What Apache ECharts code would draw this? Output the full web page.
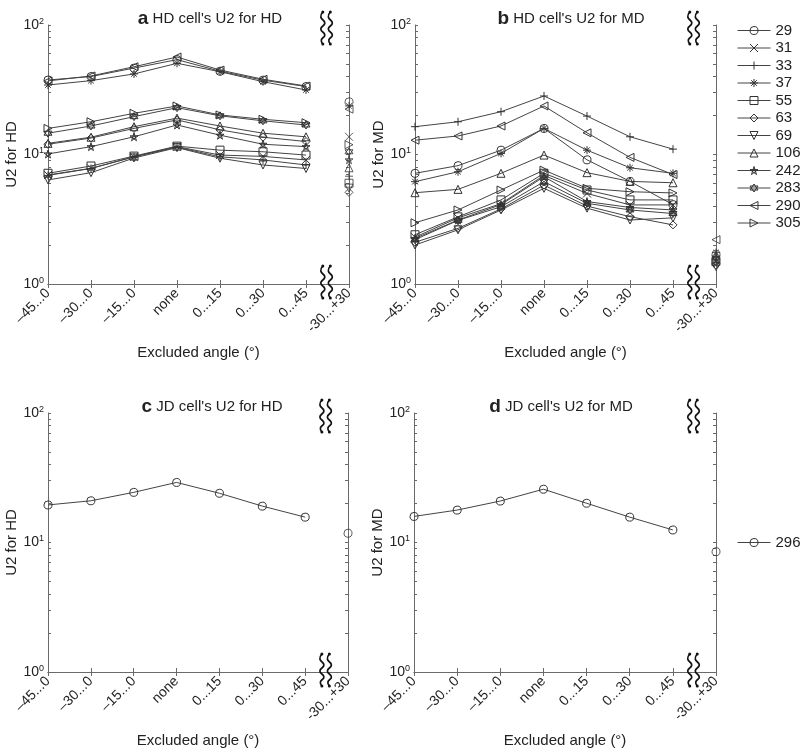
<!DOCTYPE html>
<html><head><meta charset="utf-8">
<script src="https://cdn.jsdelivr.net/npm/echarts@6/dist/echarts.min.js"></script>
<style>html,body{margin:0;padding:0;background:#fff}#c{width:800px;height:751px}</style>
</head><body><div id="c"></div>
<script>
// ---------------- data ----------------
const categories = ['–45...0','–30...0','–15...0','none','0...15','0...30','0...45','-30...+30'];
const cellIds = ['29','31','33','37','55','63','69','106','242','283','290','305'];
// panel a: HD cell's U2 for HD (first seven categories), rows follow cellIds
const hdForHD = [
  [37.6, 40.0, 46.5, 54.0, 44.0, 37.5, 33.5],
  [6.95, 7.82, 9.6, 11.5, 9.9, 9.67, 9.08],
  [6.9, 7.8, 9.6, 11.4, 9.6, 9.08, 8.3],
  [34.4, 37.2, 41.9, 50.6, 43.6, 36.5, 31.5],
  [7.16, 8.15, 9.72, 11.6, 10.8, 10.5, 9.9],
  [12.0, 13.4, 15.9, 18.5, 15.5, 13.6, 12.6],
  [6.36, 7.24, 9.4, 11.3, 9.36, 8.3, 7.8],
  [12.2, 13.6, 16.4, 19.1, 16.6, 14.6, 13.7],
  [10.1, 11.5, 13.7, 16.9, 14.1, 12.0, 11.5],
  [14.6, 16.6, 19.6, 23.0, 19.9, 18.2, 16.9],
  [37.0, 40.4, 47.6, 56.6, 44.9, 38.1, 33.8],
  [15.9, 17.9, 20.8, 23.7, 20.2, 18.7, 17.6]
];
// panel a: value for the "-30...+30" category
const hdForHDWide = [25.5, 13.7, 6.8, 23.7, 6.0, 5.1, 5.5, 7.9, 9.1, 10.5, 22.4, 11.9];
// panel b: HD cell's U2 for MD
const hdForMD = [
  [7.16, 8.2, 10.8, 15.9, 9.1, 6.2, 4.1],
  [2.3, 3.24, 4.17, 6.9, 5.0, 4.08, 4.08],
  [16.4, 17.9, 21.4, 28.3, 19.8, 13.7, 11.0],
  [6.17, 7.36, 10.2, 15.9, 10.8, 7.9, 7.16],
  [2.4, 3.3, 4.46, 7.16, 5.32, 4.46, 4.46],
  [2.1, 2.69, 3.8, 5.8, 4.0, 3.31, 2.86],
  [2.0, 2.62, 3.73, 5.48, 3.85, 3.12, 3.24],
  [5.07, 5.38, 7.16, 9.9, 7.24, 6.2, 6.05],
  [2.25, 3.12, 4.1, 6.74, 4.33, 3.9, 3.73],
  [2.2, 3.1, 3.95, 6.17, 4.2, 3.73, 3.5],
  [12.9, 13.9, 16.6, 23.7, 14.7, 9.5, 7.0],
  [2.97, 3.73, 5.32, 7.58, 5.48, 5.16, 5.05]
];
const hdForMDWide = [1.70, 1.55, 1.62, 1.75, 1.50, 1.40, 1.36, 1.66, 1.45, 1.58, 2.2, 1.48];
// panels c, d: JD cell
const jdId = '296';
const jdForHD = [19.5, 21.0, 24.4, 29.1, 24.0, 19.1, 15.7];
const jdForHDWide = 11.8;
const jdForMD = [15.9, 17.8, 20.9, 25.8, 20.1, 15.7, 12.5];
const jdForMDWide = 8.5;
const titlesText = ["{b|a} HD cell's U2 for HD", "{b|b} HD cell's U2 for MD", "{b|c} JD cell's U2 for HD", "{b|d} JD cell's U2 for MD"];
const yNames = ['U2 for HD', 'U2 for MD', 'U2 for HD', 'U2 for MD'];

// ---------------- style ----------------
const FONT = 'Liberation Sans, Arial, sans-serif';
const AX = '#6a6a6a';
const LINE = '#444';
const CIRCLE = 'path://M5,0A5,5 0 1,1 4.99,0Z';
const symbols = {
  '29': CIRCLE,
  '31': 'path://M0,0L10,10M10,0L0,10',
  '33': 'path://M5,0L5,10M0,5L10,5',
  '37': 'path://M5,0L5,10M0,5L10,5M1.5,1.5L8.5,8.5M8.5,1.5L1.5,8.5',
  '55': 'path://M0,0L10,0L10,10L0,10Z',
  '63': 'path://M5,0L10,5L5,10L0,5Z',
  '69': 'path://M0,0L10,0L5,9Z',
  '106': 'path://M5,0L10,9L0,9Z',
  '242': 'path://M5,0L7.94,9.05L0.24,3.45L9.76,3.45L2.06,9.05Z',
  '283': 'path://M5,0L9.33,7.5L0.67,7.5ZM5,10L0.67,2.5L9.33,2.5Z',
  '290': 'path://M0,5L9,0L9,10Z',
  '305': 'path://M10,5L1,0L1,10Z',
  '296': CIRCLE
};
const grids = [
  {left: 48, top: 25, width: 301, height: 259},
  {left: 415, top: 25, width: 301, height: 259},
  {left: 48, top: 413, width: 300, height: 259},
  {left: 414, top: 413, width: 302, height: 259}
];
const titleCenters = [[205, 4], [566, 4], [207, 392], [556, 392]];

const minorLog = [];
for (let d = 0; d < 2; d++) for (let m = 1; m < 10; m++) minorLog.push(d + Math.log10(m));
minorLog.push(2);

const xAxes = [], yAxes = [], series = [], graphics = [];
grids.forEach((g, gi) => {
  xAxes.push({
    gridIndex: gi, type: 'category', data: categories, boundaryGap: false, position: 'bottom',
    axisLine: {lineStyle: {color: AX, width: 1}},
    axisTick: {inside: true, length: 4, lineStyle: {color: AX}, alignWithLabel: true},
    axisLabel: {rotate: 45, interval: 0, margin: 7, fontSize: 14, color: '#222', fontFamily: FONT},
    name: 'Excluded angle (°)', nameLocation: 'middle', nameGap: 61,
    nameTextStyle: {fontSize: 15, color: '#222', fontFamily: FONT},
    splitLine: {show: false}
  });
  xAxes.push({
    gridIndex: gi, type: 'category', data: categories, boundaryGap: false, position: 'top',
    axisLine: {lineStyle: {color: AX, width: 1}},
    axisTick: {show: true, inside: true, length: 4, interval: 0, lineStyle: {color: AX}},
    axisLabel: {show: false}, splitLine: {show: false}
  });
  yAxes.push({
    gridIndex: gi, type: 'log', logBase: 10, min: 1, max: 100, position: 'left',
    axisLine: {show: true, lineStyle: {color: AX, width: 1}},
    axisTick: {show: false},
    axisLabel: {
      margin: 4, color: '#222', fontFamily: FONT, fontSize: 14,
      formatter: v => '10{s|' + Math.round(Math.log10(v)) + '}',
      rich: {s: {fontSize: 9, verticalAlign: 'top', lineHeight: 16, fontFamily: FONT, color: '#222'}}
    },
    name: yNames[gi], nameLocation: 'middle', nameGap: 24,
    nameTextStyle: {fontSize: 15, color: '#222', fontFamily: FONT},
    splitLine: {show: false}
  });
  yAxes.push({
    gridIndex: gi, type: 'value', min: 0, max: 2, position: 'left',
    axisLine: {show: false}, axisLabel: {show: false}, splitLine: {show: false},
    axisTick: {show: true, inside: true, length: 3, customValues: minorLog, lineStyle: {color: AX}}
  });
  yAxes.push({
    gridIndex: gi, type: 'value', min: 0, max: 2, position: 'right',
    axisLine: {show: true, lineStyle: {color: AX, width: 1}}, axisLabel: {show: false}, splitLine: {show: false},
    axisTick: {show: true, inside: true, length: 3, customValues: minorLog, lineStyle: {color: AX}}
  });
  // axis-break squiggles (decoration)
  const wave = [[0,0],[-2,5],[2,11],[-2,17],[2,23],[-1.5,28],[0,32]];
  [0.913, 0.938].forEach(f => {
    const x = g.left + g.width * f;
    [g.top - 13, g.top + g.height - 18].forEach(y => {
      graphics.push({type: 'polyline', x: x, y: y, z: 100,
        shape: {points: wave, smooth: 0.5},
        style: {stroke: '#111', fill: null, lineWidth: 1.7}});
      graphics.push({type: 'circle', x: x, y: y, shape: {r: 1.5}, style: {fill: '#111'}, z: 100});
      graphics.push({type: 'circle', x: x, y: y + 32, shape: {r: 1.5}, style: {fill: '#111'}, z: 100});
    });
  });
});

const markerStyle = {color: 'rgba(255,255,255,0)', borderColor: '#333', borderWidth: 1};
function addSeries(name, gi, vals, wide) {
  const common = {
    name: name, xAxisIndex: gi * 2, yAxisIndex: gi * 3,
    symbol: symbols[name], symbolSize: 8,
    itemStyle: markerStyle,
    lineStyle: {color: LINE, width: 1},
    emphasis: {disabled: true}, silent: true
  };
  series.push(Object.assign({type: 'line', data: vals}, common));
  series.push(Object.assign({type: 'scatter', data: [[categories[7], wide]]}, common));
}
cellIds.forEach((id, i) => {
  addSeries(id, 0, hdForHD[i], hdForHDWide[i]);
  addSeries(id, 1, hdForMD[i], hdForMDWide[i]);
});
addSeries(jdId, 2, jdForHD, jdForHDWide);
addSeries(jdId, 3, jdForMD, jdForMDWide);

const legendCommon = {
  orient: 'vertical', left: 732, itemWidth: 33, itemHeight: 10, selectedMode: false,
  itemStyle: markerStyle, lineStyle: {color: LINE, width: 1},
  textStyle: {fontSize: 15, color: '#222', fontFamily: FONT}
};
const option = {
  animation: false,
  backgroundColor: '#fff',
  textStyle: {fontFamily: FONT},
  title: titlesText.map((t, i) => ({
    text: t, left: titleCenters[i][0], top: titleCenters[i][1], textAlign: 'center',
    textStyle: {fontSize: 15, fontWeight: 'normal', color: '#222', fontFamily: FONT,
      rich: {b: {fontSize: 19, fontWeight: 'bold', color: '#222', fontFamily: FONT}}}
  })),
  grid: grids,
  xAxis: xAxes,
  yAxis: yAxes,
  legend: [
    Object.assign({data: cellIds, top: 18, itemGap: 2.5}, legendCommon),
    Object.assign({data: [jdId], top: 530}, legendCommon)
  ],
  series: series,
  graphic: graphics
};
const chart = echarts.init(document.getElementById('c'), null, {renderer: 'canvas'});
chart.setOption(option);
</script></body></html>
